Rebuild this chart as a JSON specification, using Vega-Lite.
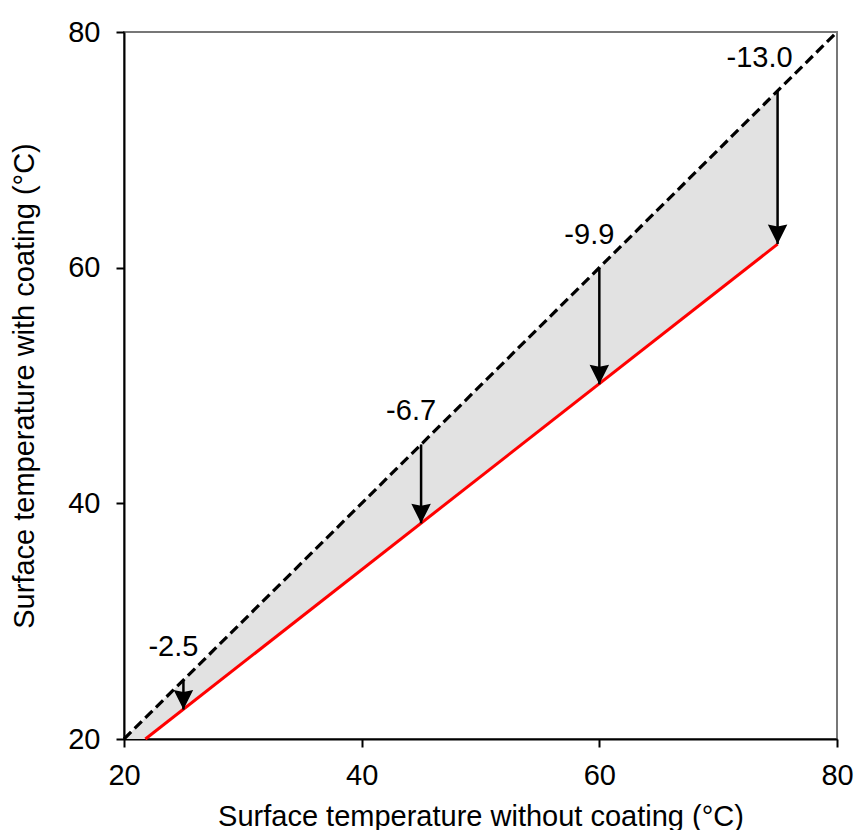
{
  "$schema": "https://vega.github.io/schema/vega-lite/v6.json",
  "width": 713,
  "height": 707,
  "autosize": {"type": "none"},
  "padding": {"left": 124, "top": 32, "right": 19, "bottom": 91},
  "background": "white",
  "config": {
    "view": {"stroke": "#777", "strokeWidth": 2},
    "font": "Liberation Sans",
    "axis": {
      "grid": false,
      "domainColor": "black",
      "domainWidth": 2,
      "tickColor": "black",
      "tickWidth": 2,
      "tickSize": 8,
      "labelFlush": false,
      "labelOverlap": false,
      "labelFont": "Liberation Sans",
      "labelFontSize": 29,
      "labelColor": "black",
      "labelPadding": 14,
      "titleFont": "Liberation Sans",
      "titleFontSize": 29,
      "titleFontWeight": "normal",
      "titleColor": "black"
    }
  },
  "datasets": {
    "diag": [{"x": 20, "y": 20}, {"x": 80, "y": 80}],
    "red": [{"x": 21.8, "y": 20}, {"x": 75, "y": 62.0}],
    "band": [
      {"x": 20, "lo": 20, "hi": 20},
      {"x": 21.8, "lo": 20, "hi": 21.8},
      {"x": 75, "lo": 62.0, "hi": 75}
    ],
    "arrows": [
      {"x": 25, "top": 25, "bottom": 22.5, "label": "-2.5"},
      {"x": 45, "top": 45, "bottom": 38.3, "label": "-6.7"},
      {"x": 60, "top": 60, "bottom": 50.1, "label": "-9.9"},
      {"x": 75, "top": 75, "bottom": 62.0, "label": "-13.0"}
    ]
  },
  "layer": [
    {
      "data": {"name": "band"},
      "mark": {"type": "area", "color": "#e2e2e2", "opacity": 1},
      "encoding": {
        "x": {"field": "x", "type": "quantitative", "scale": {"domain": [20, 80], "nice": false, "zero": false},
              "axis": {"values": [20, 40, 60, 80], "title": "Surface temperature without coating (°C)", "titleX": 356.5, "titleY": 86, "titleBaseline": "alphabetic"}},
        "y": {"field": "lo", "type": "quantitative", "scale": {"domain": [20, 80], "nice": false, "zero": false},
              "axis": {"values": [20, 40, 60, 80], "title": "Surface temperature with coating (°C)", "titleX": -91, "titleY": 353.5, "titleBaseline": "alphabetic", "labelPadding": 16}},
        "y2": {"field": "hi"}
      }
    },
    {
      "data": {"name": "red"},
      "mark": {"type": "line", "color": "#ff0000", "strokeWidth": 3},
      "encoding": {
        "x": {"field": "x", "type": "quantitative"},
        "y": {"field": "y", "type": "quantitative"}
      }
    },
    {
      "data": {"name": "diag"},
      "mark": {"type": "line", "color": "black", "strokeWidth": 3.2, "strokeDash": [10, 5]},
      "encoding": {
        "x": {"field": "x", "type": "quantitative"},
        "y": {"field": "y", "type": "quantitative"}
      }
    },
    {
      "data": {"name": "arrows"},
      "mark": {"type": "rule", "color": "black", "strokeWidth": 2.5},
      "encoding": {
        "x": {"field": "x", "type": "quantitative"},
        "y": {"field": "top", "type": "quantitative"},
        "y2": {"field": "bottom"}
      }
    },
    {
      "data": {"name": "arrows"},
      "mark": {"type": "point", "shape": "M0,0L-1,-2L0,-1.8L1,-2Z", "filled": true, "size": 380, "color": "black", "opacity": 1},
      "encoding": {
        "x": {"field": "x", "type": "quantitative"},
        "y": {"field": "bottom", "type": "quantitative"}
      }
    },
    {
      "data": {"name": "arrows"},
      "mark": {"type": "text", "font": "Liberation Sans", "fontSize": 29, "color": "black", "align": "right", "baseline": "alphabetic", "dx": 15, "dy": -24},
      "encoding": {
        "x": {"field": "x", "type": "quantitative"},
        "y": {"field": "top", "type": "quantitative"},
        "text": {"field": "label"}
      }
    }
  ]
}
